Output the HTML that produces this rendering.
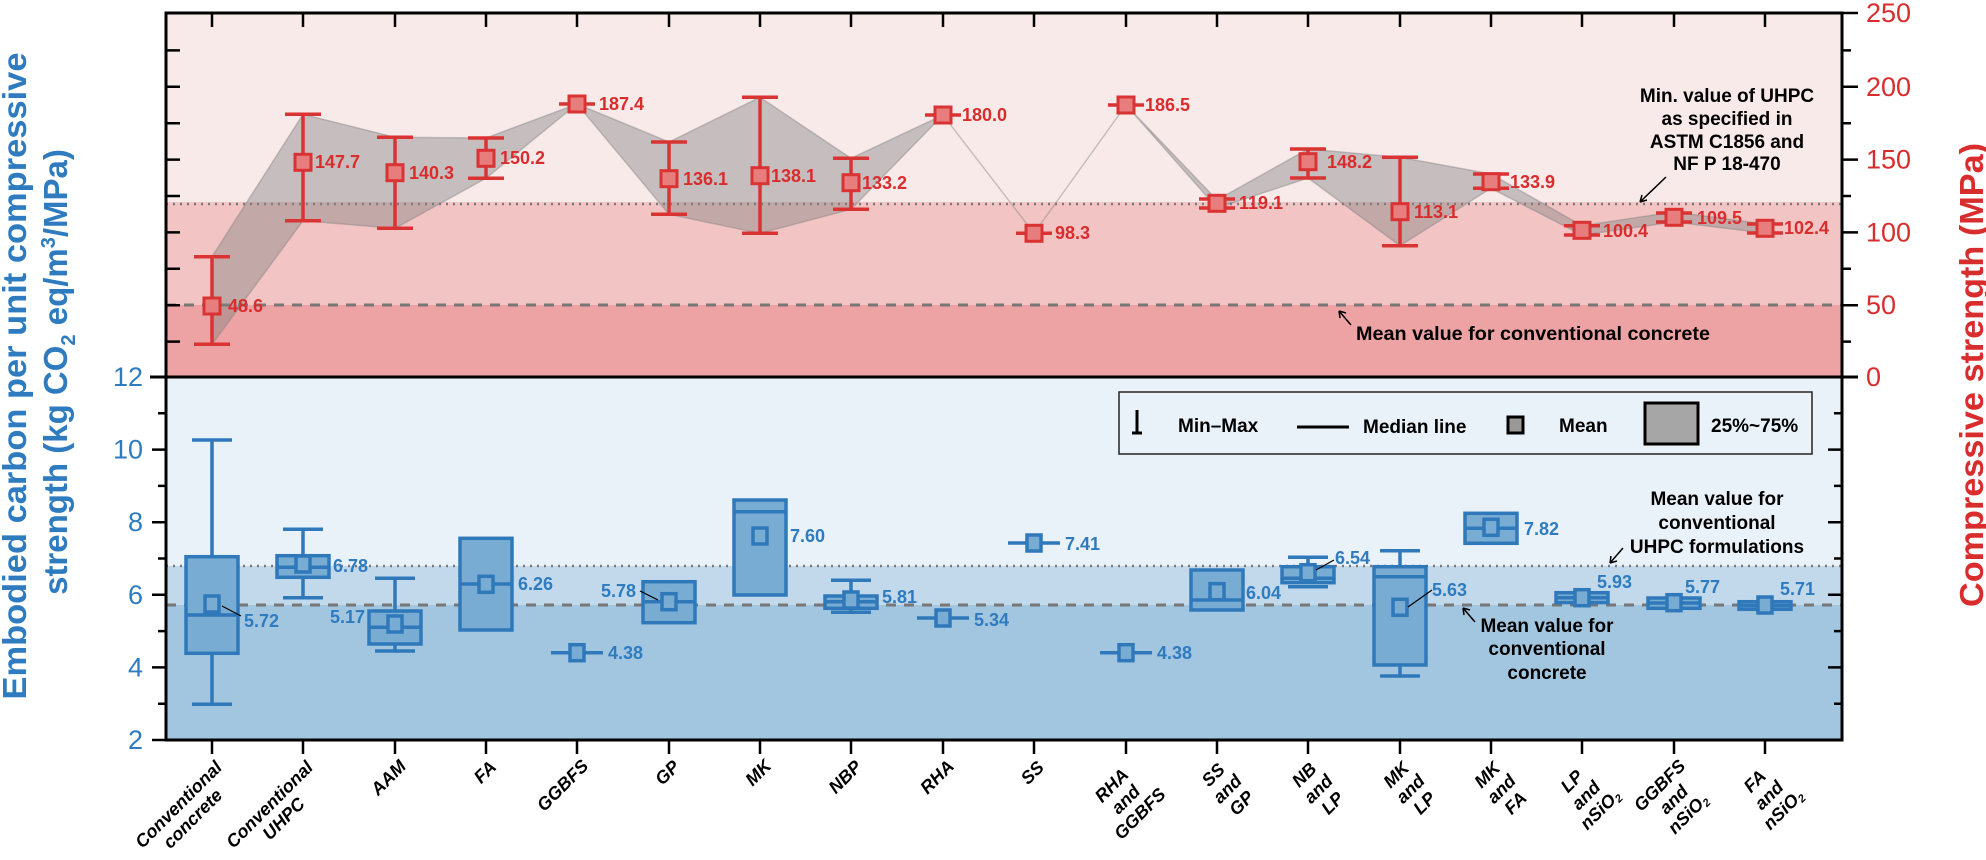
<!DOCTYPE html>
<html><head><meta charset="utf-8"><style>
html,body{margin:0;padding:0;background:#fff}
svg{display:block}
text{font-family:"Liberation Sans",Arial,sans-serif}
.r{fill:#d92d2d;font-weight:bold;font-size:18px}
.b{fill:#2e7bbf;font-weight:bold;font-size:18px}
.k{fill:#000;font-weight:bold;font-size:19px}
.xl{fill:#000;font-weight:bold;font-style:italic;font-size:18px}
</style></head><body>
<svg width="1986" height="860" viewBox="0 0 1986 860" xmlns="http://www.w3.org/2000/svg">
<rect x="166" y="13" width="1676" height="189" fill="#f9eaea"/>
<rect x="166" y="202" width="1676" height="103" fill="#f3c4c4"/>
<rect x="166" y="305" width="1676" height="72" fill="#eda2a3"/>
<rect x="166" y="377" width="1676" height="189" fill="#eaf2f9"/>
<rect x="166" y="566" width="1676" height="39" fill="#c2d9ec"/>
<rect x="166" y="605" width="1676" height="135" fill="#a2c6e0"/>
<line x1="166" y1="204" x2="1842" y2="204" stroke="#7a7a7a" stroke-width="2.5" stroke-dasharray="2,5"/>
<line x1="166" y1="305" x2="1842" y2="305" stroke="#777" stroke-width="3" stroke-dasharray="10,8"/>
<line x1="166" y1="566" x2="1842" y2="566" stroke="#7a7a7a" stroke-width="2.5" stroke-dasharray="2,5"/>
<line x1="166" y1="605" x2="1842" y2="605" stroke="#777" stroke-width="3" stroke-dasharray="10,8"/>

<polygon fill="#808080" fill-opacity="0.42" stroke="#808080" stroke-opacity="0.42" stroke-width="1.5" points="212,256.7 303,114.3 395,137.3 486,138 577,104 669,142 760,97.3 851,158.3 943,115 1034,233.3 1126,105 1217,200 1308,149 1400,157.3 1491,174 1582,225.7 1674,212 1765,224 1765,233 1674,222 1582,235 1491,188.3 1400,245.7 1308,178 1217,208 1126,105 1034,233.3 943,115 851,209.3 760,233.3 669,214.3 577,104 486,178.3 395,228.3 303,220.7 212,344.3"/>

<g stroke="#d93333" stroke-width="3.5" fill="none">
<path d="M212,256.7V344.3M194,256.7h36M194,344.3h36"/>
<path d="M303,114.3V220.7M285,114.3h36M285,220.7h36"/>
<path d="M395,137.3V228.3M377,137.3h36M377,228.3h36"/>
<path d="M486,138V178.3M468,138h36M468,178.3h36"/>
<path d="M559,104h36"/>
<path d="M669,142V214.3M651,142h36M651,214.3h36"/>
<path d="M760,97.3V233.3M742,97.3h36M742,233.3h36"/>
<path d="M851,158.3V209.3M833,158.3h36M833,209.3h36"/>
<path d="M925,115h36"/>
<path d="M1016,233.3h36"/>
<path d="M1108,105h36"/>
<path d="M1199,199h36M1199,208h36"/>
<path d="M1308,149V178M1290,149h36M1290,178h36"/>
<path d="M1400,157.3V245.7M1382,157.3h36M1382,245.7h36"/>
<path d="M1491,174V188.3M1473,174h36M1473,188.3h36"/>
<path d="M1564,225.7h36M1564,235h36"/>
<path d="M1656,213h36M1656,222h36"/>
<path d="M1747,224h36M1747,233h36"/>
</g>
<g fill="#e87d7d" stroke="#d93333" stroke-width="3">
<rect x="204" y="298" width="16" height="16"/>
<rect x="295" y="154.3" width="16" height="16"/>
<rect x="387" y="164.7" width="16" height="16"/>
<rect x="478" y="150.3" width="16" height="16"/>
<rect x="569" y="96" width="16" height="16"/>
<rect x="661" y="170.7" width="16" height="16"/>
<rect x="752" y="167.7" width="16" height="16"/>
<rect x="843" y="174.7" width="16" height="16"/>
<rect x="935" y="107" width="16" height="16"/>
<rect x="1026" y="225.3" width="16" height="16"/>
<rect x="1118" y="97" width="16" height="16"/>
<rect x="1209" y="195.3" width="16" height="16"/>
<rect x="1300" y="153.7" width="16" height="16"/>
<rect x="1392" y="203.7" width="16" height="16"/>
<rect x="1483" y="173.7" width="16" height="16"/>
<rect x="1574" y="222.3" width="16" height="16"/>
<rect x="1666" y="209.3" width="16" height="16"/>
<rect x="1757" y="220.3" width="16" height="16"/>
</g>
<g class="r" dominant-baseline="central">
<text x="228" y="306">48.6</text><text x="315" y="162">147.7</text><text x="409" y="173">140.3</text>
<text x="500" y="158">150.2</text><text x="599" y="104">187.4</text><text x="683" y="179">136.1</text>
<text x="771" y="176">138.1</text><text x="862" y="183">133.2</text><text x="962" y="115">180.0</text>
<text x="1055" y="233">98.3</text><text x="1145" y="105">186.5</text><text x="1239" y="203">119.1</text>
<text x="1327" y="162">148.2</text><text x="1414" y="212">113.1</text><text x="1510" y="182">133.9</text>
<text x="1603" y="231">100.4</text><text x="1697" y="218">109.5</text><text x="1784" y="228">102.4</text>
</g>

<g stroke="#2f78ba" stroke-width="3.5" fill="#78acd3">
<path d="M212,440V556.7M212,653.3V704.3M192,440h40M192,704.3h40" fill="none"/>
<rect x="186" y="556.7" width="52" height="96.6"/><path d="M186,615h52"/>
<path d="M303,529.3V555.7M303,577.3V597.7M283,529.3h40M283,597.7h40" fill="none"/>
<rect x="277" y="555.7" width="52" height="21.6"/><path d="M277,567.3h52"/>
<path d="M395,578.3V611M395,644V651M375,578.3h40M375,651h40" fill="none"/>
<rect x="369" y="611" width="52" height="33"/><path d="M369,627.3h52"/>
<rect x="460" y="538.3" width="52" height="91.7"/><path d="M460,584h52"/>
<path d="M551,652.7h52"/>
<rect x="643" y="581.7" width="52" height="41"/><path d="M643,601.7h52"/>
<rect x="734" y="500" width="52" height="95"/><path d="M734,511.7h52"/>
<path d="M851,580.3V596M851,608.3V612.3M831,580.3h40M831,612.3h40" fill="none"/>
<rect x="825" y="596" width="52" height="12.3"/><path d="M825,601.7h52"/>
<path d="M917,618h52"/>
<path d="M1008,543h52"/>
<path d="M1100,652.7h52"/>
<rect x="1191" y="570" width="52" height="40"/><path d="M1191,600h52"/>
<path d="M1308,557.3V566.7M1288,557.3h40M1288,586.7h40" fill="none"/>
<rect x="1282" y="566.7" width="52" height="16"/><path d="M1282,578.3h52"/>
<path d="M1400,550.7V566.7M1400,665V676M1380,550.7h40M1380,676h40" fill="none"/>
<rect x="1374" y="566.7" width="52" height="98.3"/><path d="M1374,576.7h52"/>
<rect x="1465" y="513.3" width="52" height="30"/><path d="M1465,528.3h52"/>
<rect x="1556" y="592.7" width="52" height="10"/><path d="M1556,597.7h52"/>
<rect x="1648" y="598" width="52" height="10.3"/><path d="M1648,603h52"/>
<rect x="1739" y="601.7" width="52" height="7.6"/><path d="M1739,605.5h52"/>
</g>
<g stroke="#2f78ba" stroke-width="3.5" fill="#78acd3">
<rect x="205" y="596" width="14" height="16"/>
<rect x="296" y="556" width="14" height="16"/>
<rect x="388" y="616" width="14" height="16"/>
<rect x="479" y="576.3" width="14" height="16"/>
<rect x="570" y="644.7" width="14" height="16"/>
<rect x="662" y="593.7" width="14" height="16"/>
<rect x="753" y="528" width="14" height="16"/>
<rect x="844" y="592" width="14" height="16"/>
<rect x="936" y="610" width="14" height="16"/>
<rect x="1027" y="535" width="14" height="16"/>
<rect x="1119" y="644.7" width="14" height="16"/>
<rect x="1210" y="583.7" width="14" height="16"/>
<rect x="1301" y="564.7" width="14" height="16"/>
<rect x="1393" y="599.3" width="14" height="16"/>
<rect x="1484" y="519.3" width="14" height="16"/>
<rect x="1575" y="589.7" width="14" height="16"/>
<rect x="1667" y="594.7" width="14" height="16"/>
<rect x="1758" y="597" width="14" height="16"/>
</g>
<g stroke="#000" stroke-width="1.2">
<line x1="222" y1="606" x2="241" y2="616"/>
<line x1="640" y1="591" x2="658" y2="600"/>
<line x1="1316" y1="570" x2="1334" y2="560"/>
<line x1="1408" y1="607" x2="1432" y2="590"/>
</g>
<g class="b" dominant-baseline="central">
<text x="244" y="621">5.72</text><text x="333" y="566">6.78</text>
<text x="365" y="617" text-anchor="end">5.17</text><text x="518" y="584">6.26</text>
<text x="608" y="653">4.38</text><text x="636" y="591" text-anchor="end">5.78</text>
<text x="790" y="536">7.60</text><text x="882" y="597">5.81</text>
<text x="974" y="620">5.34</text><text x="1065" y="544">7.41</text>
<text x="1157" y="653">4.38</text><text x="1246" y="593">6.04</text>
<text x="1335" y="558">6.54</text><text x="1432" y="590">5.63</text>
<text x="1524" y="529">7.82</text><text x="1597" y="582">5.93</text>
<text x="1685" y="587">5.77</text><text x="1780" y="589">5.71</text>
</g>

<rect x="1119" y="392" width="693" height="62" fill="#eaf2f9" stroke="#222" stroke-width="1.5"/>
<path d="M1137,410V433M1132,433h10" stroke="#000" stroke-width="3" fill="none"/>
<text class="k" x="1178" y="432">Min–Max</text>
<line x1="1297" y1="427" x2="1349" y2="427" stroke="#000" stroke-width="3"/>
<text class="k" x="1363" y="433">Median line</text>
<rect x="1508" y="417" width="15" height="16" fill="#999" stroke="#000" stroke-width="3"/>
<text class="k" x="1559" y="432">Mean</text>
<rect x="1645" y="403" width="53" height="41" fill="#a6a6a6" stroke="#000" stroke-width="3"/>
<text class="k" x="1711" y="432">25%~75%</text>

<g class="k" text-anchor="middle">
<text x="1727" y="102">Min. value of UHPC</text>
<text x="1727" y="125">as specified in</text>
<text x="1727" y="148">ASTM C1856 and</text>
<text x="1727" y="170">NF P 18-470</text>
<text x="1533" y="340" textLength="354" lengthAdjust="spacingAndGlyphs">Mean value for conventional concrete</text>
<text x="1717" y="505">Mean value for</text>
<text x="1717" y="529">conventional</text>
<text x="1717" y="553">UHPC formulations</text>
<text x="1547" y="632">Mean value for</text>
<text x="1547" y="655">conventional</text>
<text x="1547" y="679">concrete</text>
</g>
<g stroke="#000" stroke-width="1.5" fill="none">
<path d="M1666,177L1640,202M1640,202l2,-7M1640,202l7,-2"/>
<path d="M1351,325L1339,311M1339,311l1,7M1339,311l7,2"/>
<path d="M1623,548L1610,563M1610,563l1,-7M1610,563l7,-2"/>
<path d="M1475,622L1463,608M1463,608l1,7M1463,608l7,2"/>
</g>

<g stroke="#000" stroke-width="3" fill="none">
<rect x="166" y="13" width="1676" height="727"/>
<line x1="150" y1="377" x2="1858" y2="377"/>
</g>
<g stroke="#000" stroke-width="2.5">
<path d="M212,13v14M303,13v14M395,13v14M486,13v14M577,13v14M669,13v14M760,13v14M851,13v14M943,13v14M1034,13v14M1126,13v14M1217,13v14M1308,13v14M1400,13v14M1491,13v14M1582,13v14M1674,13v14M1765,13v14"/>
<path d="M212,740v14M303,740v14M395,740v14M486,740v14M577,740v14M669,740v14M760,740v14M851,740v14M943,740v14M1034,740v14M1126,740v14M1217,740v14M1308,740v14M1400,740v14M1491,740v14M1582,740v14M1674,740v14M1765,740v14"/>
<path d="M166,50.4h14M166,86.8h14M166,123.2h14M166,159.6h14M166,196h14M166,232.4h14M166,268.8h14M166,305.2h14M166,341.6h14"/>
<path d="M1842,13h16M1842,86.8h16M1842,159.6h16M1842,232.4h16M1842,305.2h16M1842,50.4h9M1842,123.2h9M1842,196h9M1842,268.8h9M1842,341.6h9"/>
<path d="M152,449.6h14M152,522.2h14M152,594.8h14M152,667.4h14M152,740h14M158,413.3h8M158,485.9h8M158,558.5h8M158,631.1h8M158,703.7h8"/>
<path d="M1828,449.6h14M1828,522.2h14M1828,594.8h14M1828,667.4h14M1834,413.3h8M1834,485.9h8M1834,558.5h8M1834,631.1h8M1834,703.7h8"/>
</g>
<g fill="#d92d2d" font-size="27" dominant-baseline="central">
<text x="1866" y="13">250</text><text x="1866" y="86.8">200</text><text x="1866" y="159.6">150</text>
<text x="1866" y="232.4">100</text><text x="1866" y="305.2">50</text><text x="1866" y="377">0</text>
</g>
<g fill="#2e7bbf" font-size="27" dominant-baseline="central" text-anchor="end">
<text x="143" y="377">12</text><text x="143" y="449.6">10</text><text x="143" y="522.2">8</text>
<text x="143" y="594.8">6</text><text x="143" y="667.4">4</text><text x="143" y="740">2</text>
</g>
<text transform="translate(26,376) rotate(-90)" text-anchor="middle" fill="#2e7bbf" font-weight="bold" font-size="33" textLength="647" lengthAdjust="spacingAndGlyphs">Embodied carbon per unit compressive</text>
<text transform="translate(67,372) rotate(-90)" text-anchor="middle" fill="#2e7bbf" font-weight="bold" font-size="33">strength (kg CO<tspan font-size="20" dy="8">2</tspan><tspan dy="-8"> eq/m</tspan><tspan font-size="20" dy="-12">3</tspan><tspan dy="12">/MPa)</tspan></text>
<text transform="translate(1983,375) rotate(-90)" text-anchor="middle" fill="#d92d2d" font-weight="bold" font-size="33" textLength="464" lengthAdjust="spacingAndGlyphs">Compressive strength (MPa)</text>

<g class="xl" text-anchor="middle">
<g transform="translate(216,760) rotate(-45)"><text x="-58" y="11">Conventional</text><text x="-58" y="31">concrete</text></g>
<g transform="translate(307,760) rotate(-45)"><text x="-58" y="11">Conventional</text><text x="-58" y="31">UHPC</text></g>
<g transform="translate(399,760) rotate(-45)"><text x="-20" y="11">AAM</text></g>
<g transform="translate(490,760) rotate(-45)"><text x="-12" y="11">FA</text></g>
<g transform="translate(581,760) rotate(-45)"><text x="-31" y="11">GGBFS</text></g>
<g transform="translate(673,760) rotate(-45)"><text x="-13" y="11">GP</text></g>
<g transform="translate(764,760) rotate(-45)"><text x="-13" y="11">MK</text></g>
<g transform="translate(855,760) rotate(-45)"><text x="-19" y="11">NBP</text></g>
<g transform="translate(947,760) rotate(-45)"><text x="-19" y="11">RHA</text></g>
<g transform="translate(1038,760) rotate(-45)"><text x="-13" y="11">SS</text></g>
<g transform="translate(1130,760) rotate(-45)"><text x="-31" y="11">RHA</text><text x="-31" y="31">and</text><text x="-31" y="51">GGBFS</text></g>
<g transform="translate(1221,760) rotate(-45)"><text x="-16" y="11">SS</text><text x="-16" y="31">and</text><text x="-16" y="51">GP</text></g>
<g transform="translate(1312,760) rotate(-45)"><text x="-16" y="11">NB</text><text x="-16" y="31">and</text><text x="-16" y="51">LP</text></g>
<g transform="translate(1404,760) rotate(-45)"><text x="-16" y="11">MK</text><text x="-16" y="31">and</text><text x="-16" y="51">LP</text></g>
<g transform="translate(1495,760) rotate(-45)"><text x="-16" y="11">MK</text><text x="-16" y="31">and</text><text x="-16" y="51">FA</text></g>
<g transform="translate(1586,760) rotate(-45)"><text x="-25" y="11">LP</text><text x="-25" y="31">and</text><text x="-25" y="51">nSiO<tspan font-size="11" dy="3">2</tspan></text></g>
<g transform="translate(1678,760) rotate(-45)"><text x="-31" y="11">GGBFS</text><text x="-31" y="31">and</text><text x="-31" y="51">nSiO<tspan font-size="11" dy="3">2</tspan></text></g>
<g transform="translate(1769,760) rotate(-45)"><text x="-25" y="11">FA</text><text x="-25" y="31">and</text><text x="-25" y="51">nSiO<tspan font-size="11" dy="3">2</tspan></text></g>
</g>
</svg>
</body></html>
